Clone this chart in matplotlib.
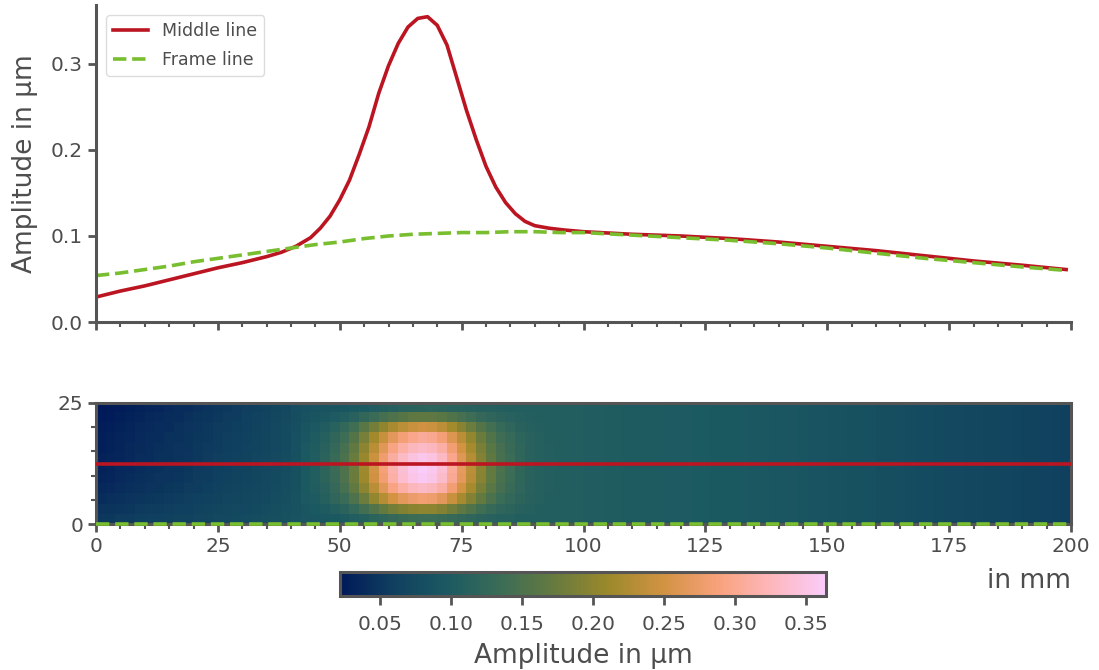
import numpy as np
import matplotlib
matplotlib.use("Agg")
import matplotlib.pyplot as plt
from matplotlib.colors import LinearSegmentedColormap
from matplotlib.ticker import MultipleLocator

# ---------------------------------------------------------------------------
# Data
# ---------------------------------------------------------------------------
# Amplitude profile along the middle line (x in mm, amplitude in µm)
middle_x = [0, 5, 10, 15, 20, 25, 30, 35, 38, 41, 44, 46, 48, 50, 52, 54, 56,
            58, 60, 62, 64, 66, 68, 70, 72, 74, 76, 78, 80, 82, 84, 86, 88,
            90, 93, 96, 100, 110, 120, 130, 140, 150, 160, 170, 180, 190, 199]
middle_amp = [0.029, 0.036, 0.042, 0.049, 0.056, 0.063, 0.069, 0.076, 0.081,
              0.088, 0.098, 0.109, 0.123, 0.142, 0.165, 0.195, 0.227, 0.266,
              0.298, 0.324, 0.343, 0.353, 0.355, 0.345, 0.322, 0.284, 0.246,
              0.212, 0.181, 0.157, 0.139, 0.126, 0.117, 0.112, 0.109, 0.107,
              0.105, 0.102, 0.100, 0.097, 0.093, 0.088, 0.083, 0.077, 0.071,
              0.066, 0.061]

# Amplitude profile along the frame line (y = 0 mm)
frame_x = [0, 5, 10, 15, 20, 25, 30, 35, 40, 45, 50, 55, 60, 65, 70, 75, 80,
           85, 90, 95, 100, 110, 120, 130, 140, 150, 160, 170, 180, 190, 199]
frame_amp = [0.054, 0.057, 0.061, 0.065, 0.070, 0.074, 0.078, 0.082, 0.086,
             0.090, 0.093, 0.097, 0.100, 0.102, 0.103, 0.104, 0.104, 0.105,
             0.105, 0.104, 0.104, 0.101, 0.098, 0.095, 0.091, 0.086, 0.080,
             0.074, 0.069, 0.064, 0.060]

# Line positions across the plate (mm)
middle_y = 12.5
frame_y = 0.0

# Amplitude map in nm: 12 rows (top y = 25 mm first) x 2 mm wide columns.
# Columns 0-96 mm (48 cells) per row:
heat_left_rows = [
    "22 24 26 29 32 34 36 39 41 43 46 49 52 54 56 59 62 65 69 74 80 84 87 89 91 94 97 100 104 107 111 113 115 116 117 116 115 113 112 110 109 108 107 106 106 105 105 105",
    "24 26 29 32 35 37 39 41 43 46 49 51 54 56 58 61 64 67 71 75 82 87 91 95 100 106 114 124 134 144 152 159 165 167 166 161 154 145 137 128 121 116 113 110 108 107 106 106",
    "27 29 32 34 37 39 41 43 45 48 51 53 56 58 60 62 65 68 73 77 83 91 96 104 113 125 140 161 183 203 221 234 243 248 244 234 217 197 177 157 141 130 122 115 111 108 107 106",
    "29 31 34 36 39 41 43 45 47 49 52 54 57 59 61 63 67 70 74 78 84 94 101 110 123 138 158 186 215 242 266 285 297 304 299 285 260 232 204 176 155 139 129 119 113 110 107 107",
    "30 32 35 37 40 42 44 46 48 50 53 55 58 60 62 64 67 70 74 78 84 96 103 114 128 145 168 200 233 264 291 312 326 333 327 311 282 250 218 187 162 144 132 121 114 110 108 107",
    "31 33 36 38 41 43 45 47 49 51 54 56 59 61 63 65 68 71 75 79 85 97 104 116 131 150 175 209 245 279 308 331 346 354 347 330 298 263 229 194 167 147 135 122 115 111 108 107",
    "32 34 37 39 42 44 46 48 50 52 55 57 60 62 64 66 69 71 75 79 85 97 105 117 133 152 178 214 251 286 317 341 356 364 357 339 306 270 234 198 170 149 136 123 115 111 108 107",
    "34 36 39 41 44 46 48 49 51 53 56 58 61 63 65 67 70 73 76 80 86 97 105 117 132 151 176 212 248 282 313 336 351 359 352 334 302 267 231 196 169 148 135 123 115 111 108 107",
    "38 39 42 44 47 48 50 52 54 56 58 60 63 65 67 69 71 74 77 81 86 97 104 114 128 145 168 200 233 264 291 312 326 333 327 311 282 250 218 187 162 144 132 121 114 110 108 107",
    "42 44 46 48 51 52 54 55 57 59 61 63 66 68 70 71 74 76 79 82 87 96 101 110 121 134 152 177 204 228 250 267 277 283 278 266 243 219 194 169 150 135 126 117 112 109 107 106",
    "48 49 51 52 55 57 58 59 61 62 65 67 70 71 73 74 76 79 81 84 88 93 98 102 108 116 127 141 156 170 183 192 199 202 200 193 181 167 153 140 130 122 117 112 109 107 106 106",
    "53 54 56 57 60 61 62 63 65 66 68 70 73 74 76 77 79 81 83 85 89 92 94 95 98 102 106 111 118 123 128 132 135 136 136 134 130 126 121 116 114 111 109 107 106 106 105 105",
]
# Columns 96-200 mm: no variation across the plate width
heat_right_cols = [105, 105, 104, 104, 103, 103, 102, 102, 101, 101,
                   100, 100, 100, 99, 99, 98, 98, 97, 96, 95,
                   95, 94, 93, 92, 91, 90, 89, 88, 87, 86,
                   85, 84, 82, 81, 80, 79, 78, 77, 76, 74,
                   73, 72, 71, 70, 69, 68, 67, 66, 65, 64,
                   63, 62]

heat_left = np.array([[float(v) for v in row.split()] for row in heat_left_rows])
heat_right = np.tile(np.array(heat_right_cols, dtype=float), (len(heat_left_rows), 1))
amplitude_map = np.hstack([heat_left, heat_right]) / 1000.0  # nm -> µm

cbar_ticks = [0.05, 0.10, 0.15, 0.20, 0.25, 0.30, 0.35]

# ---------------------------------------------------------------------------
# Style
# ---------------------------------------------------------------------------
RED = "#BB1522"
GREEN = "#78BE2F"
GREY = "#555555"
TXT = "#4d4d4d"
LW = 2.6

batlow = LinearSegmentedColormap.from_list(
    "batlow",
    ["#011959", "#10405F", "#1C5A62", "#3C6D56", "#687B3E",
     "#9D892B", "#D29343", "#F8A17B", "#FDB7BC", "#FACCFA"])

W, H = 1099, 670
fig = plt.figure(figsize=(W / 100, H / 100), dpi=100)


def style_ticks(ax):
    ax.tick_params(which="major", direction="out", length=5.8, width=2.0,
                   color=GREY, labelcolor=TXT, labelsize=14.5)
    ax.tick_params(which="minor", direction="out", length=3.6, width=1.5,
                   color=GREY)


# --- profile plot ----------------------------------------------------------
ax1 = fig.add_axes([96 / W, 1 - 322 / H, 975 / W, 317 / H])
ax1.plot(middle_x, middle_amp, color=RED, lw=LW, label="Middle line")
ax1.plot(frame_x, frame_amp, color=GREEN, lw=LW, ls="--", label="Frame line")
ax1.set_xlim(0, 200)
ax1.set_ylim(0, 0.3686)
ax1.set_yticks([0.0, 0.1, 0.2, 0.3])
ax1.xaxis.set_major_locator(MultipleLocator(25))
ax1.xaxis.set_minor_locator(MultipleLocator(5))
ax1.tick_params(axis="x", labelbottom=False)
for side in ("top", "right"):
    ax1.spines[side].set_visible(False)
for side in ("left", "bottom"):
    ax1.spines[side].set_color(GREY)
    ax1.spines[side].set_linewidth(2.2)
style_ticks(ax1)
ax1.set_ylabel("Amplitude in µm", fontsize=19, color=TXT, labelpad=9)
leg = ax1.legend(loc="upper left", fontsize=12.5, frameon=True,
                 edgecolor="#d9d9d9", framealpha=0.9, labelcolor=TXT,
                 labelspacing=0.6, borderaxespad=0.6)
leg.get_frame().set_linewidth(1.0)

# --- amplitude map ---------------------------------------------------------
ax2 = fig.add_axes([96 / W, 1 - 524 / H, 975 / W, 121 / H])
im = ax2.imshow(amplitude_map, cmap=batlow, extent=[0, 200, 0, 25],
                aspect="auto", interpolation="nearest", origin="upper")
ax2.axhline(middle_y, color=RED, lw=LW, zorder=3)
ax2.axhline(frame_y, color=GREEN, lw=LW, ls="--", zorder=3, clip_on=False)
ax2.set_xlim(0, 200)
ax2.set_ylim(0, 25)
ax2.xaxis.set_major_locator(MultipleLocator(25))
ax2.xaxis.set_minor_locator(MultipleLocator(5))
ax2.set_yticks([0, 25])
ax2.yaxis.set_minor_locator(MultipleLocator(5))
for sp in ax2.spines.values():
    sp.set_color(GREY)
    sp.set_linewidth(2.2)
style_ticks(ax2)

fig.text(1071 / W, 1 - 581 / H, "in mm", ha="right", va="center",
         fontsize=19, color=TXT)

# --- colour bar ------------------------------------------------------------
cax = fig.add_axes([340 / W, 1 - 596 / H, 486 / W, 24 / H])
cb = fig.colorbar(im, cax=cax, orientation="horizontal")
cb.set_ticks(cbar_ticks)
cb.outline.set_color(GREY)
cb.outline.set_linewidth(2.2)
cax.tick_params(direction="out", length=6.5, width=2.0, color=GREY,
                labelcolor=TXT, labelsize=14.5, pad=7)
cax.minorticks_off()
cb.set_label("Amplitude in µm", fontsize=19, color=TXT, labelpad=7)

fig.savefig("out.png", dpi=100)
